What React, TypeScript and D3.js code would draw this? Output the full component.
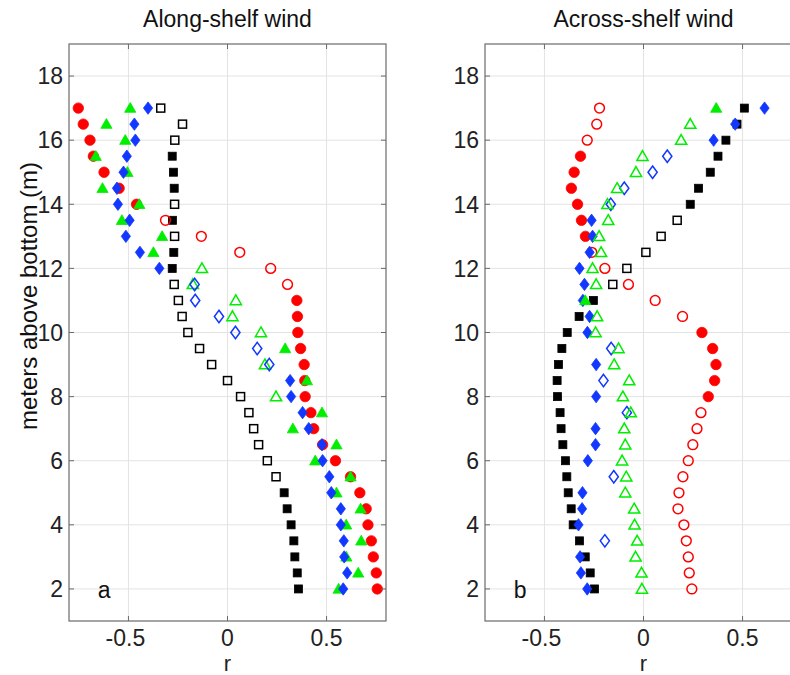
import React from 'react';
import * as d3 from 'd3';

// depth levels (m above bottom), top to bottom
const depths = [17, 16.5, 16, 15.5, 15, 14.5, 14, 13.5, 13, 12.5, 12, 11.5, 11, 10.5, 10, 9.5,
  9, 8.5, 8, 7.5, 7, 6.5, 6, 5.5, 5, 4.5, 4, 3.5, 3, 2.5, 2];

const yTicks = [2, 4, 6, 8, 10, 12, 14, 16, 18];
const xTicks = [-0.5, 0, 0.5];
const xTickLabels = ['-0.5', '0', '0.5'];

// a: along-shelf wind
const alongRed = [-0.753, -0.728, -0.694, -0.677, -0.623, -0.547, -0.459, -0.313, -0.132, 0.062, 0.218,
  0.303, 0.35, 0.353, 0.355, 0.369, 0.387, 0.39, 0.392, 0.421, 0.435, 0.48, 0.545, 0.621, 0.668, 0.7,
  0.709, 0.726, 0.736, 0.751, 0.756];
const alongRedFilled = [1, 1, 1, 1, 1, 1, 1, 0, 0, 0, 0, 0, 1, 1, 1, 1, 1, 1, 1, 1, 1, 1, 1, 1, 1, 1, 1, 1, 1, 1, 1];
const alongGreen = [-0.491, -0.611, -0.516, -0.665, -0.505, -0.631, -0.445, -0.533, -0.33, -0.374, -0.129,
  -0.175, 0.042, 0.025, 0.169, 0.291, 0.189, 0.401, 0.245, 0.477, 0.33, 0.55, 0.443, 0.621, 0.55, 0.672,
  0.599, 0.675, 0.6, 0.66, 0.561];
const alongGreenFilled = [1, 1, 1, 1, 1, 1, 1, 1, 1, 1, 0, 0, 0, 0, 0, 1, 0, 1, 0, 1, 1, 1, 1, 1, 1, 1, 1, 1, 1, 1, 1];
const alongBlue = [-0.401, -0.47, -0.465, -0.508, -0.525, -0.558, -0.553, -0.494, -0.513, -0.442, -0.344,
  -0.166, -0.163, -0.043, 0.04, 0.15, 0.211, 0.316, 0.321, 0.379, 0.41, 0.477, 0.48, 0.514, 0.524, 0.572,
  0.572, 0.587, 0.589, 0.604, 0.584];
const alongBlueFilled = [1, 1, 1, 1, 1, 1, 1, 1, 1, 1, 1, 0, 0, 0, 0, 0, 0, 1, 1, 1, 1, 1, 1, 1, 1, 1, 1, 1, 1, 1, 1];
const alongBlack = [-0.337, -0.227, -0.266, -0.279, -0.273, -0.269, -0.267, -0.278, -0.267, -0.271, -0.279,
  -0.269, -0.248, -0.229, -0.2, -0.141, -0.08, 0.0, 0.066, 0.108, 0.132, 0.157, 0.201, 0.245, 0.286, 0.301,
  0.321, 0.335, 0.34, 0.352, 0.358];
const alongBlackFilled = [0, 0, 0, 1, 1, 1, 0, 1, 0, 1, 1, 0, 0, 0, 0, 0, 0, 0, 0, 0, 0, 0, 0, 0, 1, 1, 1, 1, 1, 1, 1];

// b: across-shelf wind
const acrossRed = [-0.222, -0.236, -0.284, -0.318, -0.35, -0.364, -0.333, -0.313, -0.293, -0.261, -0.195,
  -0.076, 0.059, 0.197, 0.295, 0.349, 0.366, 0.359, 0.327, 0.29, 0.27, 0.249, 0.226, 0.199, 0.179, 0.174,
  0.204, 0.216, 0.226, 0.231, 0.244];
const acrossRedFilled = [0, 0, 0, 1, 1, 1, 1, 1, 1, 0, 0, 0, 0, 0, 1, 1, 1, 1, 1, 0, 0, 0, 0, 0, 0, 0, 0, 0, 0, 0, 0];
const acrossGreen = [0.367, 0.236, 0.19, -0.005, -0.038, -0.133, -0.182, -0.178, -0.224, -0.214, -0.257,
  -0.239, -0.294, -0.234, -0.242, -0.126, -0.148, -0.072, -0.104, -0.064, -0.097, -0.092, -0.108, -0.087,
  -0.092, -0.047, -0.045, -0.032, -0.04, -0.01, -0.008];
const acrossGreenFilled = [1, 0, 0, 0, 0, 0, 0, 0, 0, 0, 0, 0, 1, 0, 0, 0, 0, 0, 0, 0, 0, 0, 0, 0, 0, 0, 0, 0, 0, 0, 0];
const acrossBlue = [0.611, 0.463, 0.354, 0.12, 0.046, -0.097, -0.165, -0.262, -0.257, -0.272, -0.323,
  -0.298, -0.306, -0.272, -0.283, -0.163, -0.239, -0.202, -0.239, -0.084, -0.242, -0.242, -0.281, -0.15,
  -0.308, -0.31, -0.328, -0.195, -0.32, -0.316, -0.284];
const acrossBlueFilled = [1, 1, 1, 0, 0, 0, 0, 1, 1, 1, 1, 1, 1, 1, 1, 0, 1, 0, 1, 0, 1, 1, 1, 0, 1, 1, 1, 0, 1, 1, 1];
const acrossBlack = [0.509, 0.472, 0.416, 0.376, 0.337, 0.278, 0.236, 0.17, 0.089, 0.012, -0.084, -0.155,
  -0.253, -0.325, -0.385, -0.412, -0.429, -0.436, -0.434, -0.421, -0.416, -0.407, -0.394, -0.387, -0.38,
  -0.365, -0.355, -0.323, -0.294, -0.269, -0.247];
const acrossBlackFilled = [1, 1, 1, 1, 1, 1, 1, 0, 0, 0, 0, 0, 1, 1, 1, 1, 1, 1, 1, 1, 1, 1, 1, 1, 1, 1, 1, 1, 1, 1, 1];

const FONT = 'Liberation Sans, Arial, Helvetica, sans-serif';
const RED = '#ff0000', GREEN = '#00ee00', BLUE = '#1238ff', BLACK = '#000000';

const top = 44, bottom = 621;
const y = d3.scaleLinear().domain([1, 19]).range([bottom, top]);

function Marker({ shape, color, filled, cx, cy }) {
  const fill = filled ? color : 'none';
  const sw = filled ? 0.8 : 1.5;
  const t = `translate(${cx},${cy})`;
  if (shape === 'circle') return <circle cx={cx} cy={cy} r={filled ? 5.2 : 4.9} fill={fill} stroke={color} strokeWidth={sw} />;
  if (shape === 'square') return <rect x={cx - 4} y={cy - 4} width={8} height={8} fill={fill} stroke={color} strokeWidth={sw} />;
  if (shape === 'diamond') return <path transform={t} d="M0,-6.2L4.6,0L0,6.2L-4.6,0Z" fill={fill} stroke={color} strokeWidth={sw} />;
  return <path transform={t} d="M0,-5.6L5.6,4.2L-5.6,4.2Z" fill={fill} stroke={color} strokeWidth={sw} />;
}

function Panel({ x0, x1, title, letter, series }) {
  const x = d3.scaleLinear().domain([-0.8, 0.8]).range([x0, x1]);
  const mid = x(0);
  return (
    <g>
      {xTicks.map(t => <line key={'gx' + t} x1={x(t)} x2={x(t)} y1={top} y2={bottom} stroke="#e3e3e3" />)}
      {yTicks.map(t => <line key={'gy' + t} x1={x0} x2={x1} y1={y(t)} y2={y(t)} stroke="#e3e3e3" />)}
      {series.map((s, si) => (
        <g key={si}>
          {s.values.map((v, i) => (
            <Marker key={i} shape={s.shape} color={s.color} filled={s.filled[i] === 1} cx={x(v)} cy={y(depths[i])} />
          ))}
        </g>
      ))}
      <rect x={x0} y={top} width={x1 - x0} height={bottom - top} fill="none" stroke="#6a6a6a" strokeWidth={1.2} />
      {xTicks.map(t => (
        <g key={'tx' + t} stroke="#6a6a6a">
          <line x1={x(t)} x2={x(t)} y1={bottom} y2={bottom - 5} />
          <line x1={x(t)} x2={x(t)} y1={top} y2={top + 5} />
        </g>
      ))}
      {yTicks.map(t => (
        <g key={'ty' + t} stroke="#6a6a6a">
          <line x1={x0} x2={x0 + 5} y1={y(t)} y2={y(t)} />
          <line x1={x1} x2={x1 - 5} y1={y(t)} y2={y(t)} />
        </g>
      ))}
      {xTicks.map((t, i) => (
        <text key={'lx' + t} x={x(t) - (t < 0 ? 3 : 0)} y={646} textAnchor="middle" fontSize={23} fill="#222">{xTickLabels[i]}</text>
      ))}
      {yTicks.map(t => (
        <text key={'ly' + t} x={x0 - 6} y={y(t)} dy="0.36em" textAnchor="end" fontSize={23} fill="#222">{t}</text>
      ))}
      <text x={mid} y={27} textAnchor="middle" fontSize={23} fill="#111">{title}</text>
      <text x={mid} y={671} textAnchor="middle" fontSize={22} fill="#222">r</text>
      <text x={x(-0.655)} y={y(1.73)} fontSize={23} fill="#111">{letter}</text>
    </g>
  );
}

export default function App() {
  const along = [
    { shape: 'square', color: BLACK, values: alongBlack, filled: alongBlackFilled },
    { shape: 'circle', color: RED, values: alongRed, filled: alongRedFilled },
    { shape: 'triangle', color: GREEN, values: alongGreen, filled: alongGreenFilled },
    { shape: 'diamond', color: BLUE, values: alongBlue, filled: alongBlueFilled },
  ];
  const across = [
    { shape: 'square', color: BLACK, values: acrossBlack, filled: acrossBlackFilled },
    { shape: 'circle', color: RED, values: acrossRed, filled: acrossRedFilled },
    { shape: 'diamond', color: BLUE, values: acrossBlue, filled: acrossBlueFilled },
    { shape: 'triangle', color: GREEN, values: acrossGreen, filled: acrossGreenFilled },
  ];
  return (
    <svg width={790} height={675} style={{ position: 'absolute', left: 0, top: 0, background: '#fff' }} fontFamily={FONT}>
      <rect width={790} height={675} fill="#fff" />
      <Panel x0={69} x1={386} title="Along-shelf wind" letter="a" series={along} />
      <Panel x0={485} x1={802} title="Across-shelf wind" letter="b" series={across} />
      <text transform="translate(37,296) rotate(-90)" textAnchor="middle" fontSize={24} fill="#111">meters above bottom (m)</text>
    </svg>
  );
}
